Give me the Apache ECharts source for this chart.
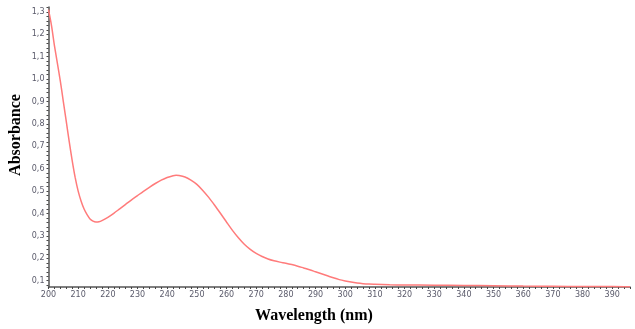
<!DOCTYPE html>
<html>
<head>
<meta charset="utf-8">
<script src="https://cdn.jsdelivr.net/npm/echarts@6/dist/echarts.min.js"></script>
<style>html,body{margin:0;padding:0;background:#fff}#c{width:635px;height:329px}</style>
</head>
<body>
<div id="c"></div>
<script>
var wavelengths = [200,201,202,203,204,205,206,207,208,209,210,211,212,213,214,215,216,217,218,220,222,224,226,228,230,232,234,236,238,240,242,243,244,246,248,250,252,254,256,258,260,262,264,266,268,270,272,274,276,278,280,282,284,286,288,290,292,294,296,298,300,302,304,306,308,310,315,320,330,340,350,360,370,380,390,396];
var absorbance = [1.31,1.24,1.15,1.07,0.99,0.90,0.81,0.72,0.635,0.56,0.50,0.455,0.42,0.395,0.376,0.366,0.362,0.363,0.368,0.383,0.401,0.421,0.441,0.461,0.480,0.499,0.517,0.534,0.549,0.561,0.569,0.571,0.570,0.563,0.549,0.530,0.503,0.472,0.437,0.400,0.362,0.325,0.292,0.263,0.240,0.222,0.208,0.197,0.189,0.183,0.178,0.172,0.165,0.157,0.149,0.140,0.131,0.122,0.113,0.105,0.099,0.094,0.090,0.087,0.085,0.084,0.082,0.081,0.080,0.079,0.078,0.076,0.075,0.074,0.074,0.073];
var xTickLabels = [200,210,220,230,240,250,260,270,280,290,300,310,320,330,340,350,360,370,380,390];
var yTickLabels = [0.1,0.2,0.3,0.4,0.5,0.6,0.7,0.8,0.9,1.0,1.1,1.2,1.3];

var xMinor = [], yMinor = [];
for (var i = 200; i <= 396; i += 2) xMinor.push(i);
for (var j = 4; j <= 66; j++) yMinor.push(+(j * 0.02).toFixed(2));

var data = wavelengths.map(function (w, k) { return [w, absorbance[k]]; });

var chart = echarts.init(document.getElementById('c'), null, {renderer: 'canvas'});
var labelStyle = {color: '#5a5a6a', fontSize: 8, fontFamily: 'DejaVu Sans'};
chart.setOption({
  animation: false,
  backgroundColor: '#fff',
  grid: {left: 48.5, right: 5, top: 7, bottom: 42},
  xAxis: {
    type: 'value', min: 200, max: 396,
    axisLine: {show: true, lineStyle: {color: '#555', width: 1.5}},
    axisTick: {show: true, length: 2, customValues: xMinor, lineStyle: {color: '#444'}},
    axisLabel: Object.assign({customValues: xTickLabels, margin: 4}, labelStyle),
    splitLine: {show: false}
  },
  yAxis: {
    type: 'value', min: 0.072, max: 1.322,
    axisLine: {show: true, lineStyle: {color: '#555', width: 1.5}},
    axisTick: {show: true, length: 2, customValues: yMinor, lineStyle: {color: '#444'}},
    axisLabel: Object.assign({customValues: yTickLabels, margin: 4,
      formatter: function (v) { return v.toFixed(1).replace('.', ','); }}, labelStyle),
    splitLine: {show: false}
  },
  graphic: [
    {type: 'text', position: [314, 316],
      style: {text: 'Wavelength (nm)', x: 0, y: 0,
        font: 'bold 16px "Liberation Serif"', fill: '#000', textAlign: 'center', textVerticalAlign: 'middle'}},
    {type: 'text', rotation: Math.PI / 2, position: [16, 135],
      style: {text: 'Absorbance', x: 0, y: 0, font: 'bold 16px "Liberation Serif"', fill: '#000',
        textAlign: 'center', textVerticalAlign: 'middle'}}
  ],
  series: [{
    type: 'line', data: data, smooth: 0.3, showSymbol: false,
    lineStyle: {color: '#ff7b7b', width: 1.5}
  }]
});
</script>
</body>
</html>
